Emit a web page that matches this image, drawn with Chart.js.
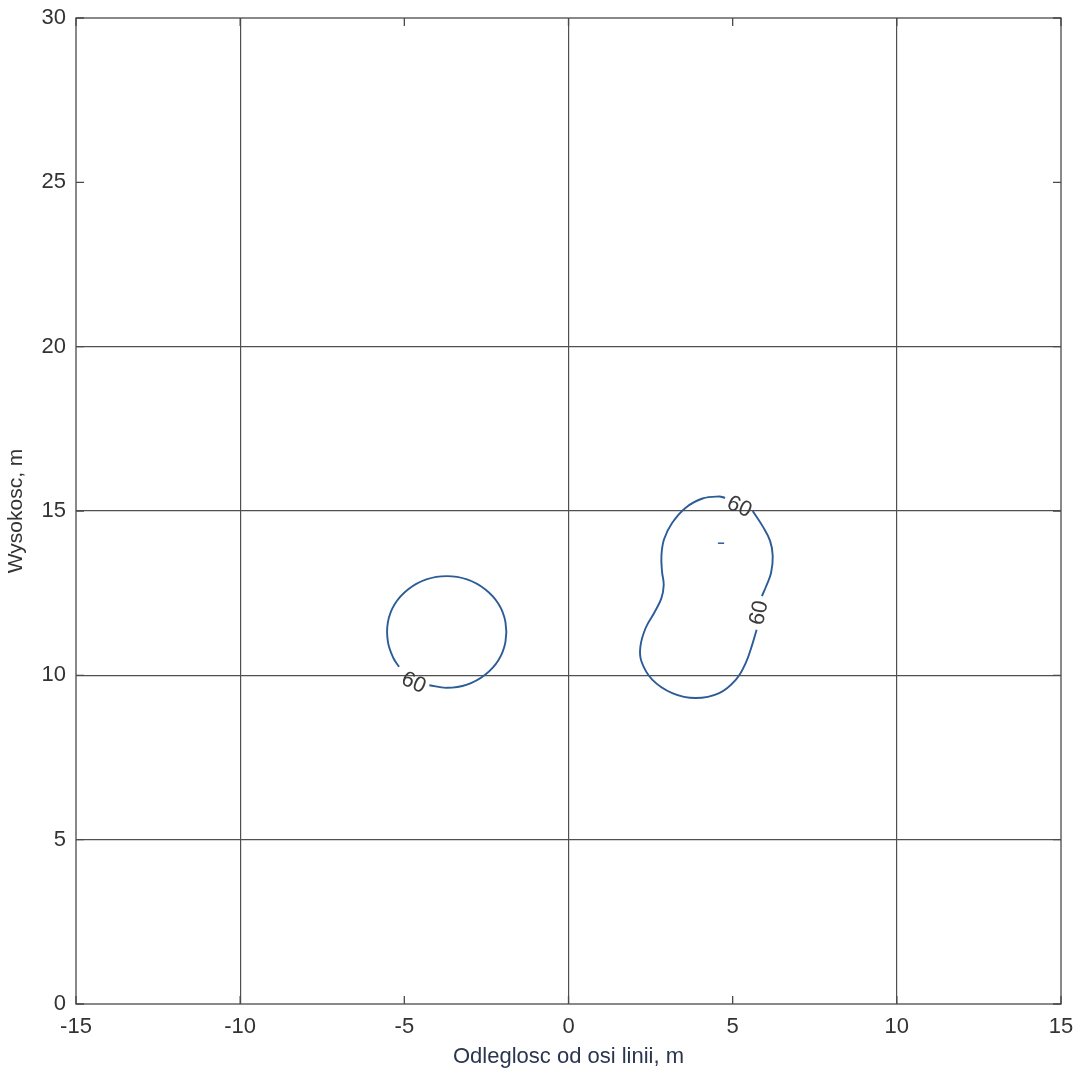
<!DOCTYPE html>
<html>
<head>
<meta charset="utf-8">
<script src="https://cdn.jsdelivr.net/npm/chart.js@4/dist/chart.umd.min.js"></script>
<style>
  html, body { margin: 0; padding: 0; background: white; }
  #wrap { width: 1075px; height: 1072px; }
</style>
</head>
<body>
<div id="wrap"><canvas id="myChart"></canvas></div>
<script>
// axis ticks and grid lines as seen on the scan
var xTicks = [-15, -10, -5, 0, 5, 10, 15];
var yTicks = [0, 5, 10, 15, 20, 25, 30];
var xGrid = [-10, 0, 10];
var yGrid = [5, 10, 15, 20];

// contour level 60 (open arcs, gaps are where labels sit)
var leftLoopX = [-4.24, -3.71, -3.09, -2.54, -2.13, -1.92, -1.92, -2.13, -2.54, -3.09, -3.71, -4.33, -4.88, -5.29, -5.50, -5.50, -5.33, -5.16];
var leftLoopY = [9.70, 9.62, 9.72, 10.02, 10.47, 11.02, 11.62, 12.17, 12.62, 12.92, 13.02, 12.92, 12.62, 12.17, 11.62, 11.02, 10.52, 10.26];

var rightArcAX = [5.61, 5.91, 6.14, 6.22, 6.17, 6.02, 5.89];
var rightArcAY = [15.0, 14.54, 14.09, 13.63, 13.12, 12.71, 12.41];

var rightArcBX = [5.73, 5.61, 5.40, 5.10, 4.59, 3.87, 3.16, 2.55, 2.22, 2.19, 2.35, 2.62, 2.83, 2.90, 2.85, 2.83, 2.91, 3.16, 3.57, 4.08, 4.59, 4.77];
var rightArcBY = [11.39, 10.98, 10.38, 9.87, 9.46, 9.31, 9.46, 9.87, 10.43, 10.88, 11.44, 11.92, 12.35, 12.75, 13.15, 13.63, 14.14, 14.64, 15.10, 15.38, 15.44, 15.40];

// tiny specks inside the right contour
var speckX = [4.55, 4.74];
var speckY = [14.02, 14.02];

// contour labels
var labelText = ['60', '60', '60'];
var labelX = [-4.72, 5.2, 5.81];
var labelY = [9.77, 15.12, 11.9];
var labelAngle = [24, 25, -78];

function toPoints(xs, ys) {
  return xs.map(function(x, i) { return { x: x, y: ys[i] }; });
}

var lineColor = '#2b5c98';

function contourSet(xs, ys, w) {
  return {
    data: toPoints(xs, ys),
    showLine: true,
    borderColor: lineColor,
    borderWidth: w || 1.9,
    pointRadius: 0,
    tension: 0.4,
    fill: false
  };
}

var boxPlugin = {
  id: 'boxAndLabels',
  afterDatasetsDraw: function(chart) {
    var c = chart.ctx;
    var a = chart.chartArea;
    var xs = chart.scales.x, ys = chart.scales.y;
    c.save();
    c.strokeStyle = '#4a4a4a';
    c.lineWidth = 1.3;
    c.strokeRect(a.left, a.top, a.right - a.left, a.bottom - a.top);
    // inward tick marks
    c.beginPath();
    xTicks.forEach(function(v) {
      var px = xs.getPixelForValue(v);
      c.moveTo(px, a.bottom); c.lineTo(px, a.bottom - 8);
      c.moveTo(px, a.top); c.lineTo(px, a.top + 8);
    });
    yTicks.forEach(function(v) {
      var py = ys.getPixelForValue(v);
      c.moveTo(a.left, py); c.lineTo(a.left + 8, py);
      c.moveTo(a.right, py); c.lineTo(a.right - 8, py);
    });
    c.stroke();
    // contour labels
    c.fillStyle = '#3a3a3a';
    c.font = '22px "Liberation Sans", Arial, sans-serif';
    c.textAlign = 'center';
    c.textBaseline = 'middle';
    labelText.forEach(function(t, i) {
      c.save();
      c.translate(xs.getPixelForValue(labelX[i]), ys.getPixelForValue(labelY[i]));
      c.rotate(labelAngle[i] * Math.PI / 180);
      c.fillText(t, 0, 0);
      c.restore();
    });
    c.restore();
  }
};

Chart.defaults.font.family = '"Liberation Sans", Arial, sans-serif';
Chart.defaults.color = '#333';

new Chart(document.getElementById('myChart'), {
  type: 'scatter',
  data: {
    datasets: [
      contourSet(leftLoopX, leftLoopY),
      contourSet(rightArcAX, rightArcAY),
      contourSet(rightArcBX, rightArcBY),
      contourSet(speckX, speckY, 1.5)
    ]
  },
  options: {
    responsive: true,
    maintainAspectRatio: false,
    animation: false,
    layout: { padding: { left: 0, right: 14, top: 18, bottom: 0 } },
    plugins: { legend: { display: false }, tooltip: { enabled: false } },
    scales: {
      x: {
        type: 'linear',
        min: -15, max: 15,
        afterBuildTicks: function(s) { s.ticks = xTicks.map(function(v) { return { value: v }; }); },
        afterFit: function(s) { s.height = 68; s.paddingLeft = 0; s.paddingRight = 0; },
        ticks: { font: { size: 22 }, color: '#333', padding: 10 },
        grid: {
          drawTicks: false,
          lineWidth: 1.2,
          color: function(ctx) { return xGrid.indexOf(ctx.tick && ctx.tick.value) >= 0 ? '#505050' : 'rgba(0,0,0,0)'; }
        },
        border: { display: false },
        title: {
          display: true,
          text: 'Odleglosc od osi linii, m',
          font: { size: 22 },
          color: '#2a3550',
          padding: { top: 0, bottom: 2 }
        }
      },
      y: {
        type: 'linear',
        min: 0, max: 30,
        afterBuildTicks: function(s) { s.ticks = yTicks.map(function(v) { return { value: v }; }); },
        afterFit: function(s) { s.width = 76; s.paddingTop = 0; s.paddingBottom = 0; },
        ticks: { font: { size: 22 }, color: '#333', padding: 10 },
        grid: {
          drawTicks: false,
          lineWidth: 1.2,
          color: function(ctx) { return yGrid.indexOf(ctx.tick && ctx.tick.value) >= 0 ? '#505050' : 'rgba(0,0,0,0)'; }
        },
        border: { display: false },
        title: {
          display: true,
          text: 'Wysokosc, m',
          font: { size: 21 },
          color: '#333',
          padding: { top: 4, bottom: 0 }
        }
      }
    }
  },
  plugins: [boxPlugin]
});
</script>
</body>
</html>
